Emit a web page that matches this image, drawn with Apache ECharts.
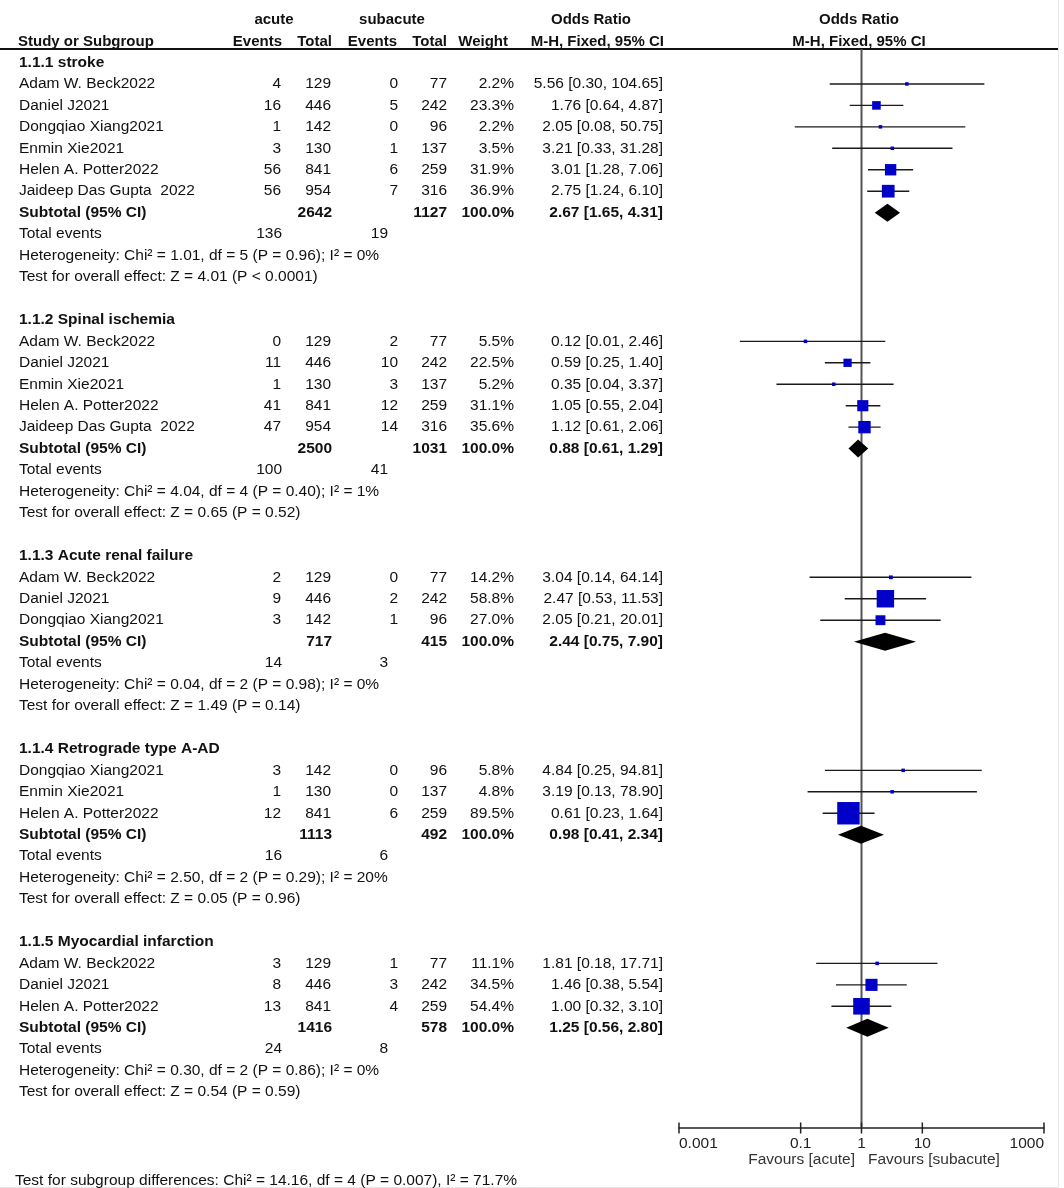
<!DOCTYPE html>
<html><head><meta charset="utf-8">
<script src="https://cdn.jsdelivr.net/npm/echarts@6/dist/echarts.min.js"></script>
<style>html,body{margin:0;padding:0;background:#fff}#chart{width:1064px;height:1188px}</style>
</head><body><div id="chart"></div>
<script>
// ---------------- data ----------------
const groupTitles = ['1.1.1 stroke', '1.1.2 Spinal ischemia', '1.1.3 Acute renal failure', '1.1.4 Retrograde type A-AD', '1.1.5 Myocardial infarction'];
const groupStudies = [
  ['Adam W. Beck2022', 'Daniel J2021', 'Dongqiao Xiang2021', 'Enmin Xie2021', 'Helen A. Potter2022', 'Jaideep Das Gupta  2022'],
  ['Adam W. Beck2022', 'Daniel J2021', 'Enmin Xie2021', 'Helen A. Potter2022', 'Jaideep Das Gupta  2022'],
  ['Adam W. Beck2022', 'Daniel J2021', 'Dongqiao Xiang2021'],
  ['Dongqiao Xiang2021', 'Enmin Xie2021', 'Helen A. Potter2022'],
  ['Adam W. Beck2022', 'Daniel J2021', 'Helen A. Potter2022']
];
const eventsAcute = [[4, 16, 1, 3, 56, 56], [0, 11, 1, 41, 47], [2, 9, 3], [3, 1, 12], [3, 8, 13]];
const totalAcute = [[129, 446, 142, 130, 841, 954], [129, 446, 130, 841, 954], [129, 446, 142], [142, 130, 841], [129, 446, 841]];
const eventsSub = [[0, 5, 0, 1, 6, 7], [2, 10, 3, 12, 14], [0, 2, 1], [0, 0, 6], [1, 3, 4]];
const totalSub = [[77, 242, 96, 137, 259, 316], [77, 242, 137, 259, 316], [77, 242, 96], [96, 137, 259], [77, 242, 259]];
const weights = [[2.2, 23.3, 2.2, 3.5, 31.9, 36.9], [5.5, 22.5, 5.2, 31.1, 35.6], [14.2, 58.8, 27.0], [5.8, 4.8, 89.5], [11.1, 34.5, 54.4]];
const oddsRatio = [[5.56, 1.76, 2.05, 3.21, 3.01, 2.75], [0.12, 0.59, 0.35, 1.05, 1.12], [3.04, 2.47, 2.05], [4.84, 3.19, 0.61], [1.81, 1.46, 1.00]];
const ciLow = [[0.30, 0.64, 0.08, 0.33, 1.28, 1.24], [0.01, 0.25, 0.04, 0.55, 0.61], [0.14, 0.53, 0.21], [0.25, 0.13, 0.23], [0.18, 0.38, 0.32]];
const ciHigh = [[104.65, 4.87, 50.75, 31.28, 7.06, 6.10], [2.46, 1.40, 3.37, 2.04, 2.06], [64.14, 11.53, 20.01], [94.81, 78.90, 1.64], [17.71, 5.54, 3.10]];
const subtotalAcute = [2642, 2500, 717, 1113, 1416];
const subtotalSub = [1127, 1031, 415, 492, 578];
const subtotalOR = [2.67, 0.88, 2.44, 0.98, 1.25];
const subtotalLow = [1.65, 0.61, 0.75, 0.41, 0.56];
const subtotalHigh = [4.31, 1.29, 7.90, 2.34, 2.80];
const totalEventsAcute = [136, 100, 14, 16, 24];
const totalEventsSub = [19, 41, 3, 6, 8];
const heterogeneity = [
  'Heterogeneity: Chi\u00B2 = 1.01, df = 5 (P = 0.96); I\u00B2 = 0%',
  'Heterogeneity: Chi\u00B2 = 4.04, df = 4 (P = 0.40); I\u00B2 = 1%',
  'Heterogeneity: Chi\u00B2 = 0.04, df = 2 (P = 0.98); I\u00B2 = 0%',
  'Heterogeneity: Chi\u00B2 = 2.50, df = 2 (P = 0.29); I\u00B2 = 20%',
  'Heterogeneity: Chi\u00B2 = 0.30, df = 2 (P = 0.86); I\u00B2 = 0%'
];
const overallEffect = [
  'Test for overall effect: Z = 4.01 (P < 0.0001)',
  'Test for overall effect: Z = 0.65 (P = 0.52)',
  'Test for overall effect: Z = 1.49 (P = 0.14)',
  'Test for overall effect: Z = 0.05 (P = 0.96)',
  'Test for overall effect: Z = 0.54 (P = 0.59)'
];
const axisTicks = [0.001, 0.1, 1, 10, 1000];
const axisTickLabels = ['0.001', '0.1', '1', '10', '1000'];
const nullEffect = 1;
const favoursLabels = ['Favours [acute]', 'Favours [subacute]'];
const subgroupTest = 'Test for subgroup differences: Chi\u00B2 = 14.16, df = 4 (P = 0.007), I\u00B2 = 71.7%';

// ---------------- layout ----------------
const W = 1064, H = 1188;
const ROW0 = 62.5, ROWH = 21.45;
const pxToRow = p => (p - ROW0) / ROWH;
const PLOT_TOP = 49, PLOT_BOTTOM = 1127.5, PLOT_LEFT = 679, PLOT_RIGHT = 1044;
const FONT = '"Liberation Sans", Arial, sans-serif';
const FS = 15.5;
const HFONT = 'bold 15px "Liberation Sans Narrow", "Liberation Sans", Arial, sans-serif';
const col = { name: 19, evA: 281, totA: 331, evB: 398, totB: 447, wt: 514, ci: 663, teA: 282, teB: 388 };

const fmt2 = v => v.toFixed(2);
const ciText = (o, l, h) => fmt2(o) + ' [' + fmt2(l) + ', ' + fmt2(h) + ']';

const textRows = [];
const studyMarks = [];
const diamondMarks = [];
textRows.push({ row: pxToRow(19.5), cells: [
  { t: 'acute', x: 274, a: 'center', f: HFONT },
  { t: 'subacute', x: 392, a: 'center', f: HFONT },
  { t: 'Odds Ratio', x: 591, a: 'center', f: HFONT },
  { t: 'Odds Ratio', x: 859, a: 'center', f: HFONT }
] });
textRows.push({ row: pxToRow(41.5), cells: [
  { t: 'Study or Subgroup', x: 18, a: 'left', f: HFONT },
  { t: 'Events', x: 282, a: 'right', f: HFONT },
  { t: 'Total', x: 332, a: 'right', f: HFONT },
  { t: 'Events', x: 397, a: 'right', f: HFONT },
  { t: 'Total', x: 447, a: 'right', f: HFONT },
  { t: 'Weight', x: 508, a: 'right', f: HFONT },
  { t: 'M-H, Fixed, 95% CI', x: 664, a: 'right', f: HFONT },
  { t: 'M-H, Fixed, 95% CI', x: 859, a: 'center', f: HFONT }
] });
textRows.push({ row: pxToRow(PLOT_TOP), rule: true });

let r = 0;
for (let g = 0; g < groupTitles.length; g++) {
  const bodyF = FS + 'px ' + FONT;
  const boldF = 'bold ' + FS + 'px ' + FONT;
  textRows.push({ row: r, cells: [{ t: groupTitles[g], x: col.name, a: 'left', f: boldF }] });
  r++;
  for (let s = 0; s < groupStudies[g].length; s++) {
    textRows.push({ row: r, cells: [
      { t: groupStudies[g][s], x: col.name, a: 'left', f: bodyF },
      { t: String(eventsAcute[g][s]), x: col.evA, a: 'right', f: bodyF },
      { t: String(totalAcute[g][s]), x: col.totA, a: 'right', f: bodyF },
      { t: String(eventsSub[g][s]), x: col.evB, a: 'right', f: bodyF },
      { t: String(totalSub[g][s]), x: col.totB, a: 'right', f: bodyF },
      { t: weights[g][s].toFixed(1) + '%', x: col.wt, a: 'right', f: bodyF },
      { t: ciText(oddsRatio[g][s], ciLow[g][s], ciHigh[g][s]), x: col.ci, a: 'right', f: bodyF }
    ] });
    studyMarks.push([ciLow[g][s], ciHigh[g][s], oddsRatio[g][s], r, weights[g][s]]);
    r++;
  }
  textRows.push({ row: r, cells: [
    { t: 'Subtotal (95% CI)', x: col.name, a: 'left', f: boldF },
    { t: String(subtotalAcute[g]), x: col.totA + 1, a: 'right', f: boldF },
    { t: String(subtotalSub[g]), x: col.totB, a: 'right', f: boldF },
    { t: '100.0%', x: col.wt, a: 'right', f: boldF },
    { t: ciText(subtotalOR[g], subtotalLow[g], subtotalHigh[g]), x: col.ci, a: 'right', f: boldF }
  ] });
  diamondMarks.push([subtotalLow[g], subtotalHigh[g], subtotalOR[g], r]);
  r++;
  textRows.push({ row: r, cells: [
    { t: 'Total events', x: col.name, a: 'left', f: bodyF },
    { t: String(totalEventsAcute[g]), x: col.teA, a: 'right', f: bodyF },
    { t: String(totalEventsSub[g]), x: col.teB, a: 'right', f: bodyF }
  ] });
  r++;
  textRows.push({ row: r, cells: [{ t: heterogeneity[g], x: col.name, a: 'left', f: bodyF }] });
  r++;
  textRows.push({ row: r, cells: [{ t: overallEffect[g], x: col.name, a: 'left', f: bodyF }] });
  r += 2;
}
textRows.push({ row: pxToRow(1160), cells: [
  { t: favoursLabels[0], x: 855, a: 'right', f: FS + 'px ' + FONT, c: '#333' },
  { t: favoursLabels[1], x: 868, a: 'left', f: FS + 'px ' + FONT, c: '#333' }
] });
textRows.push({ row: pxToRow(1181), cells: [{ t: subgroupTest, x: 15, a: 'left', f: FS + 'px ' + FONT }] });

const boxSize = w => Math.max(3.5, Math.sqrt(6.5 * Math.max(0, w - 12)));

const chart = echarts.init(document.getElementById('chart'), null, { renderer: 'canvas' });
chart.setOption({
  animation: false,
  backgroundColor: '#fff',
  graphic: [
    { type: 'line', shape: { x1: 1058.5, y1: 0, x2: 1058.5, y2: 1187 }, style: { stroke: '#e6e6e6', lineWidth: 1 }, z: 0 },
    { type: 'line', shape: { x1: 0, y1: 1187.5, x2: 1058.5, y2: 1187.5 }, style: { stroke: '#e6e6e6', lineWidth: 1 }, z: 0 }
  ],
  grid: [
    { left: 0, top: 0, width: W, height: H },
    { left: PLOT_LEFT, top: PLOT_TOP, width: PLOT_RIGHT - PLOT_LEFT, height: PLOT_BOTTOM - PLOT_TOP }
  ],
  xAxis: [
    { type: 'value', gridIndex: 0, min: 0, max: W, show: false },
    {
      type: 'log', gridIndex: 1, logBase: 10, min: 0.001, max: 1000, position: 'bottom',
      axisLine: { show: true, onZero: false, lineStyle: { color: '#222', width: 1.5 } },
      axisTick: { show: false },
      splitLine: { show: false },
      axisLabel: {
        show: true, customValues: axisTicks, margin: 8,
        formatter: v => { const i = axisTicks.findIndex(t => Math.abs(Math.log10(t) - Math.log10(v)) < 1e-6); return i >= 0 ? axisTickLabels[i] : ''; },
        color: '#222', fontSize: FS, fontFamily: FONT,
        alignMinLabel: 'left', alignMaxLabel: 'right'
      }
    }
  ],
  yAxis: [
    { type: 'value', gridIndex: 0, inverse: true, min: pxToRow(0), max: pxToRow(H), show: false },
    { type: 'value', gridIndex: 1, inverse: true, min: pxToRow(PLOT_TOP), max: pxToRow(PLOT_BOTTOM), show: false }
  ],
  series: [
    {
      type: 'custom', xAxisIndex: 0, yAxisIndex: 0, silent: true,
      data: textRows.map(t => [0, t.row]),
      encode: { x: 0, y: 1 },
      renderItem: (params, api) => {
        const tr = textRows[params.dataIndex];
        const y = api.coord([0, api.value(1)])[1];
        if (tr.rule) {
          return { type: 'line', shape: { x1: api.coord([0, 0])[0], y1: y, x2: api.coord([1058, 0])[0], y2: y }, style: { stroke: '#111', lineWidth: 2 } };
        }
        return {
          type: 'group',
          children: tr.cells.map(c => ({
            type: 'text',
            style: { text: c.t, x: api.coord([c.x, 0])[0], y: y, align: c.a, verticalAlign: 'middle', font: c.f, fill: c.c || '#111' }
          }))
        };
      }
    },
    {
      // vertical line of no effect (OR = 1)
      type: 'custom', xAxisIndex: 1, yAxisIndex: 1, silent: true, clip: false, z: 2,
      data: [[nullEffect, pxToRow(PLOT_TOP), pxToRow(PLOT_BOTTOM)]],
      encode: { x: 0, y: [1, 2] },
      renderItem: (params, api) => {
        const a = api.coord([api.value(0), api.value(1)]);
        const b = api.coord([api.value(0), api.value(2)]);
        return { type: 'line', shape: { x1: a[0], y1: a[1], x2: b[0], y2: b[1] }, style: { stroke: '#555', lineWidth: 2 } };
      }
    },
    {
      type: 'custom', xAxisIndex: 1, yAxisIndex: 1, silent: true, clip: false, z: 3,
      data: studyMarks,
      encode: { x: [0, 1, 2], y: 3 },
      renderItem: (params, api) => {
        const row = api.value(3);
        const p1 = api.coord([api.value(0), row]);
        const p2 = api.coord([api.value(1), row]);
        const pc = api.coord([api.value(2), row]);
        const s = boxSize(api.value(4));
        return {
          type: 'group',
          children: [
            { type: 'line', shape: { x1: p1[0], y1: p1[1], x2: p2[0], y2: p2[1] }, style: { stroke: '#1a1a1a', lineWidth: 1.4 } },
            { type: 'rect', shape: { x: pc[0] - s / 2, y: pc[1] - s / 2, width: s, height: s }, style: { fill: '#0000c8' } }
          ]
        };
      }
    },
    {
      type: 'custom', xAxisIndex: 1, yAxisIndex: 1, silent: true, clip: false, z: 4,
      data: diamondMarks,
      encode: { x: [0, 1, 2], y: 3 },
      renderItem: (params, api) => {
        const row = api.value(3);
        const pl = api.coord([api.value(0), row]);
        const ph = api.coord([api.value(1), row]);
        const pc = api.coord([api.value(2), row]);
        const h = 9;
        return { type: 'polygon', shape: { points: [[pl[0], pl[1]], [pc[0], pc[1] - h], [ph[0], ph[1]], [pc[0], pc[1] + h]] }, style: { fill: '#000' } };
      }
    },
    {
      type: 'custom', xAxisIndex: 1, yAxisIndex: 1, silent: true, clip: false,
      data: axisTicks.map(v => [v, pxToRow(PLOT_BOTTOM)]),
      encode: { x: 0, y: 1 },
      renderItem: (params, api) => {
        const p = api.coord([api.value(0), api.value(1)]);
        return { type: 'line', shape: { x1: p[0], y1: p[1] - 5, x2: p[0], y2: p[1] + 6 }, style: { stroke: '#222', lineWidth: 1.5 } };
      }
    }
  ]
});
</script>
</body></html>
